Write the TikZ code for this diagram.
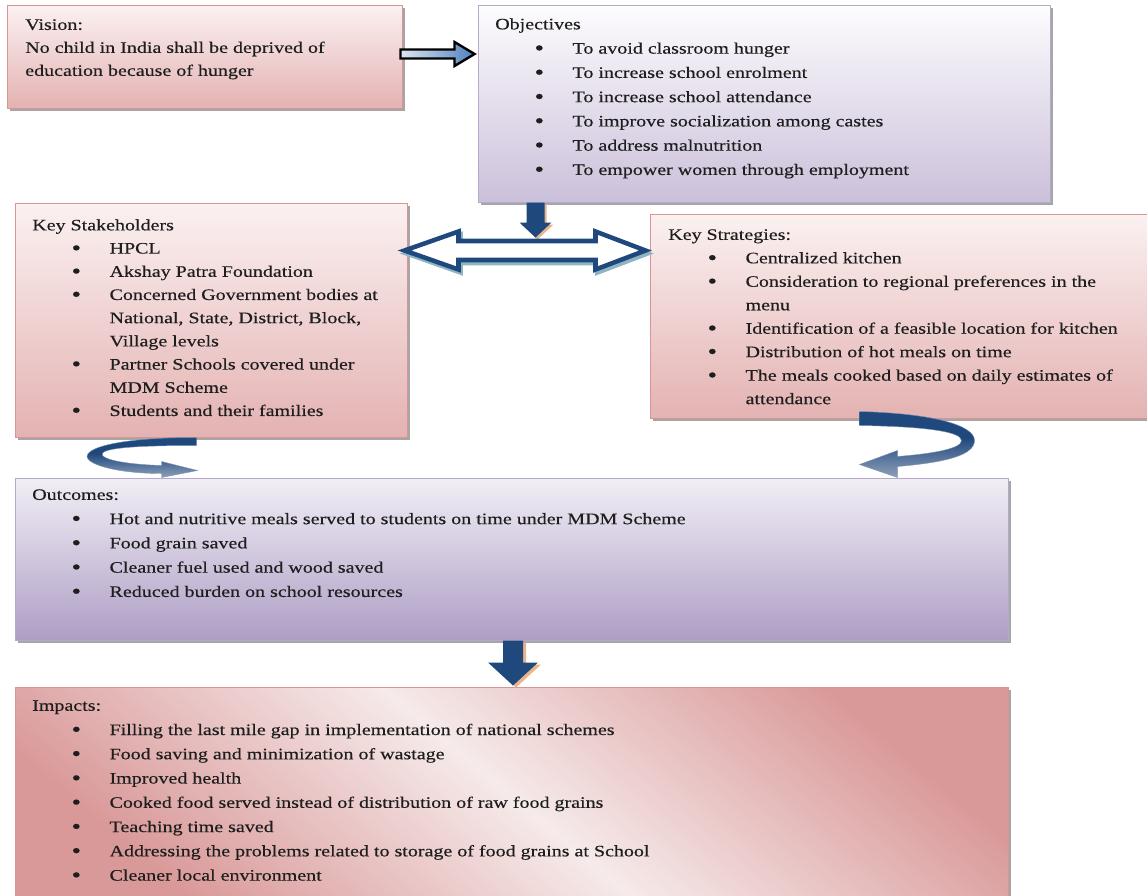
\documentclass[tikz,border=0pt]{standalone}
\usepackage{fontspec}
\setmainfont{Liberation Serif}[FakeStretch=1.25,FakeBold=0.35]
\usetikzlibrary{calc,fit,shadows}
\definecolor{pinkB}{HTML}{D99594}
\definecolor{pinkD}{HTML}{E4B2B2}
\definecolor{pinkT}{HTML}{FBF1F1}
\definecolor{pinkI}{HTML}{DA9999}
\definecolor{pinkW}{HTML}{F6EAEA}
\definecolor{lavB}{HTML}{B7A8CC}
\definecolor{lavT}{HTML}{FDFCFE}
\definecolor{lavD}{HTML}{CBC0DA}
\definecolor{lavO}{HTML}{AE9EC5}
\definecolor{lavOT}{HTML}{F1EEF5}
\definecolor{navy}{HTML}{1F497D}
\definecolor{navyL}{HTML}{E3E8EF}
\definecolor{navyM}{HTML}{7D92B0}
\definecolor{ablue}{HTML}{4F81BD}
\definecolor{ablueL}{HTML}{DCE6F2}
\definecolor{orsh}{HTML}{E9B48C}
\definecolor{tealsh}{HTML}{8FB4C4}
\definecolor{ink}{HTML}{1E1E1E}
\pgfdeclareverticalshading{curvshade}{100bp}{color(0bp)=(navyL); color(30bp)=(navyM); color(55bp)=(navy); color(100bp)=(navy)}
\newcommand\fs[1]{\fontsize{12}{#1}\selectfont}
\newcommand\bul{\hspace*{29.5pt}\makebox[28.5pt][l]{\raisebox{-1.1pt}{\scalebox{1.35}{\textbullet}}}}
\newcommand\cont{\hspace*{58pt}}
\begin{document}
\begin{tikzpicture}[x=0.75pt,y=-0.75pt,
  box/.style={inner sep=0pt, line width=0.75pt,
    drop shadow={shadow xshift=2.5pt, shadow yshift=-2.5pt, fill=black!50, opacity=0.7}},
  pinkbox/.style={box, draw=pinkB, top color=pinkT, bottom color=pinkD},
  lavbox/.style={box, draw=lavB, top color=lavT, bottom color=lavD},
  txt/.style={inner sep=0pt, anchor=north west, align=left, text=ink},
  blockarrow/.style={line join=miter},
  curvarrow/.style={shading=curvshade, draw=navy!60, line width=0.3pt}]
\useasboundingbox (0,0) rectangle (1147,896);

% boxes
\node[pinkbox, fit={(7,5) (402,108)}] (vision) {};
\node[lavbox, fit={(478,5) (1050,202)}] (obj) {};
\node[pinkbox, fit={(15,203) (407,437)}] (ks) {};
\node[pinkbox, fit={(650,214) (1152,418)}] (kst) {};
\node[box, draw=lavB, top color=lavOT, bottom color=lavO, fit={(15,478) (1008,640)}] (outc) {};
\node[box, draw=pinkB, top color=pinkI, bottom color=pinkI, middle color=pinkW, shading angle=-40,
      fit={(15,687) (1008,905)}] (imp) {};

% vision -> objectives
\coordinate (a1s) at ($(vision.east)+(-2,-2.5)$);
\coordinate (a1e) at ($(a1s -| obj.west)+(-3,0)$);
\shade[blockarrow, left color=ablueL, right color=ablue, draw=black, line width=1.8pt]
  ($(a1s)+(0,-4.5)$) -- ($(a1e)+(-20,-4.5)$) -- ($(a1e)+(-20,-12)$) -- (a1e)
  -- ($(a1e)+(-20,12)$) -- ($(a1e)+(-20,4.5)$) -- ($(a1s)+(0,4.5)$) -- cycle;

% objectives -> double arrow
\begin{scope}[shift={(obj.south west)}]
  \fill[orsh, shift={(2,2)}] (49,0) -- (49,20) -- (42,20) -- (58,35) -- (74,20) -- (67,20) -- (67,0) -- cycle;
  \shade[blockarrow, left color=navy, middle color=navy!65!white, right color=navy]
    (49,0) -- (49,20) -- (42,20) -- (58,35) -- (74,20) -- (67,20) -- (67,0) -- cycle;
\end{scope}

% double arrow between stakeholders and strategies
\begin{scope}[shift={(ks.north east)}]
  \draw[blockarrow, tealsh, line width=3.4pt, shift={(2,3)}]
    (-3,48) -- (51,29) -- (51,38.5) -- (188,38.5) -- (188,29) -- (238,48) -- (188,67) -- (188,57.5) -- (51,57.5) -- (51,67) -- cycle;
  \draw[blockarrow, navy, fill=white, line width=3.4pt]
    (-3,48) -- (51,29) -- (51,38.5) -- (188,38.5) -- (188,29) -- (238,48) -- (188,67) -- (188,57.5) -- (51,57.5) -- (51,67) -- cycle;
\end{scope}

% stakeholders -> outcomes (curved)
\begin{scope}[shift={(ks.south west)}]
  \shade[curvarrow]
    (182,0) .. controls (95,0) and (63,13) .. (75,23) .. controls (85,31) and (115,36) .. (147,36)
    -- (147,40) -- (183,33) -- (147,24) -- (147,28)
    .. controls (115,27) and (92,23) .. (88,18) .. controls (84,11) and (115,8) .. (182,8) -- cycle;
\end{scope}

% strategies -> outcomes (curved)
\begin{scope}[shift={(kst.south west)}]
  \shade[curvarrow]
    (210,-7) .. controls (285,-5) and (325,7) .. (325,22) .. controls (325,37) and (295,44) .. (248,48)
    -- (248,59) -- (210,46) -- (248,32) -- (248,38)
    .. controls (285,35) and (312,30) .. (312,22) .. controls (312,13) and (275,8) .. (210,7) -- cycle;
\end{scope}

% outcomes -> impacts
\begin{scope}[shift={(outc.south)}]
  \fill[orsh, shift={(3,2)}] (-8.5,0) -- (-8.5,22) -- (-23.5,22) -- (1.5,45) -- (26.5,22) -- (11.5,22) -- (11.5,0) -- cycle;
  \shade[blockarrow, left color=navy, middle color=navyL, right color=navy]
    (-8.5,0) -- (-8.5,22) -- (-23.5,22) -- (1.5,45) -- (26.5,22) -- (11.5,22) -- (11.5,0) -- cycle;
\end{scope}

% texts
\node[txt, font=\fs{17.25pt}] (vt) at (25,19) {Vision:\\No child in India shall be deprived of\\education because of hunger};

\node[txt, font=\fs{18.2pt}] (ot) at (495,18) {Objectives\\
\bul To avoid classroom hunger\\
\bul To increase school enrolment\\
\bul To increase school attendance\\
\bul To improve socialization among castes\\
\bul To address malnutrition\\
\bul To empower women through employment};

\node[txt, font=\fs{17.4pt}] (kt) at (32,219) {Key Stakeholders\\
\bul HPCL\\
\bul Akshay Patra Foundation\\
\bul Concerned Government bodies at\\
\cont National, State, District, Block,\\
\cont Village levels\\
\bul Partner Schools covered under\\
\cont MDM Scheme\\
\bul Students and their families};

\node[txt, font=\fs{17.6pt}] (st) at (668,229) {Key Strategies:\\
\bul Centralized kitchen\\
\bul Consideration to regional preferences in the\\
\cont menu\\
\bul Identification of a feasible location for kitchen\\
\bul Distribution of hot meals on time\\
\bul The meals cooked based on daily estimates of\\
\cont attendance};

\node[txt, font=\fs{18.2pt}] (oct) at (32,489) {Outcomes:\\
\bul Hot and nutritive meals served to students on time under MDM Scheme\\
\bul Food grain saved\\
\bul Cleaner fuel used and wood saved\\
\bul Reduced burden on school resources};

\node[txt, font=\fs{18.2pt}] (it) at (32,700) {Impacts:\\
\bul Filling the last mile gap in implementation of national schemes\\
\bul Food saving and minimization of wastage\\
\bul Improved health\\
\bul Cooked food served instead of distribution of raw food grains\\
\bul Teaching time saved\\
\bul Addressing the problems related to storage of food grains at School\\
\bul Cleaner local environment};
\end{tikzpicture}
\end{document}
